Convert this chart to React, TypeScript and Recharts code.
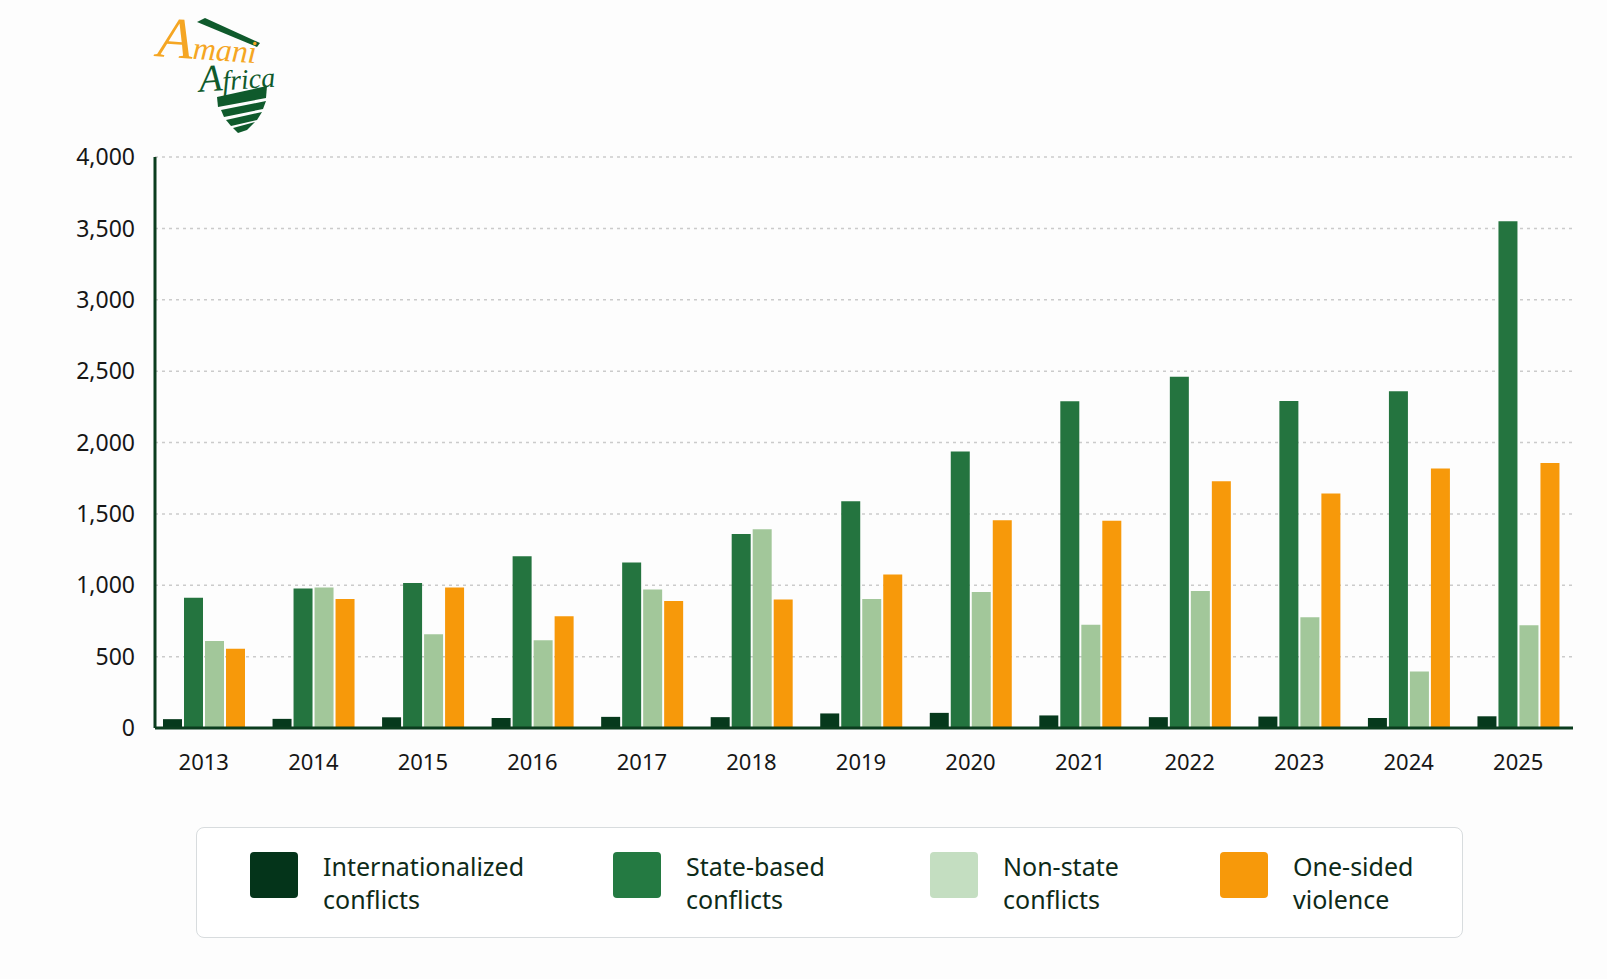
import {
  BarChart,
  Bar,
  XAxis,
  YAxis,
  CartesianGrid,
} from "recharts";

const years = ["2013", "2014", "2015", "2016", "2017", "2018", "2019", "2020", "2021", "2022", "2023", "2024", "2025"];
const internationalized = [62, 64, 75, 70, 78, 76, 102, 106, 88, 76, 80, 70, 82];
const stateBased = [913, 977, 1016, 1204, 1160, 1359, 1589, 1937, 2289, 2460, 2291, 2359, 3550];
const nonState = [610, 984, 657, 615, 970, 1392, 904, 953, 723, 960, 775, 395, 719];
const oneSided = [556, 904, 984, 782, 889, 901, 1075, 1456, 1451, 1729, 1643, 1817, 1857];
const yTicks = [0, 500, 1000, 1500, 2000, 2500, 3000, 3500, 4000];

const series = [
  { key: "intl", label: ["Internationalized", "conflicts"], color: "#06391c", swatch: "#04341a" },
  { key: "state", label: ["State-based", "conflicts"], color: "#24743f", swatch: "#247a42" },
  { key: "nonstate", label: ["Non-state", "conflicts"], color: "#a2c79a", swatch: "#c4dec1" },
  { key: "onesided", label: ["One-sided", "violence"], color: "#f7990a", swatch: "#f7990a" },
];

const data = years.map((year, i) => ({
  year,
  intl: internationalized[i],
  state: stateBased[i],
  nonstate: nonState[i],
  onesided: oneSided[i],
}));

// legend item widths (px) to line up with the original layout
const legendItemWidths = [363, 317, 290, 200];

const AXIS = "#0b3d1e";
const LOGO_GREEN = "#0f5a2c";

function Logo() {
  return (
    <svg width={160} height={140} style={{ position: "absolute", left: 140, top: 5 }} viewBox="140 5 160 140">
      <polygon points="197,22 205,18 260,43 257,47" fill={LOGO_GREEN} />
      <text
        x={157}
        y={60}
        fontStyle="italic"
        fontFamily="'Liberation Serif', serif"
        fill="#f5a623"
        transform="rotate(4 210 55)"
      >
        <tspan fontSize={58}>A</tspan>
        <tspan fontSize={32}>mani</tspan>
      </text>
      <text
        x={199}
        y={89}
        fontStyle="italic"
        fontFamily="'Liberation Serif', serif"
        fill={LOGO_GREEN}
        transform="rotate(-4 240 80)"
      >
        <tspan fontSize={38}>A</tspan>
        <tspan fontSize={28}>frica</tspan>
      </text>
      <polygon points="217,97 267,86 266,98 218,107" fill={LOGO_GREEN} />
      <polygon points="221,110 266,101 263,109 224,117" fill={LOGO_GREEN} />
      <polygon points="226,120 262,112 257,120 231,126" fill={LOGO_GREEN} />
      <polygon points="233,128 255,122 247,130 238,133" fill={LOGO_GREEN} />
    </svg>
  );
}

function LegendBox() {
  return (
    <div
      style={{
        position: "absolute",
        left: 196,
        top: 827,
        width: 1267,
        height: 111,
        boxSizing: "border-box",
        border: "1.5px solid #d8dcde",
        borderRadius: 8,
        background: "#ffffff",
        display: "flex",
        alignItems: "flex-start",
        paddingLeft: 53,
        paddingTop: 24,
      }}
    >
      {series.map((s, i) => (
        <div key={s.key} style={{ width: legendItemWidths[i], display: "flex", alignItems: "flex-start" }}>
          <div style={{ width: 48, height: 46, background: s.swatch, borderRadius: 4, flexShrink: 0 }} />
          <div
            style={{
              marginLeft: 25,
              marginTop: -2,
              fontFamily: "'Noto Sans', sans-serif",
              fontSize: 25,
              lineHeight: "33px",
              color: "#0e2a18",
            }}
          >
            {s.label[0]}
            <br />
            {s.label[1]}
          </div>
        </div>
      ))}
    </div>
  );
}

export default function App() {
  return (
    <div
      style={{
        position: "absolute",
        left: 0,
        top: 0,
        width: 1607,
        height: 979,
        background: "#fdfdfd",
        fontFamily: "'Noto Sans', sans-serif",
        overflow: "hidden",
      }}
    >
      <Logo />
      <div style={{ position: "absolute", left: 0, top: 0 }}>
        <BarChart
          width={1607}
          height={800}
          data={data}
          margin={{ top: 157, right: 34, left: 55, bottom: 32 }}
          barSize={19}
          barGap={2}
        >
          <CartesianGrid vertical={false} strokeDasharray="3 4" stroke="#cbcbcb" strokeWidth={1.5} />
          <XAxis
            dataKey="year"
            height={40}
            padding={{ left: -6, right: 0 }}
            axisLine={{ stroke: AXIS, strokeWidth: 3 }}
            tickLine={false}
            tickSize={0}
            tickMargin={26}
            tick={{ fontSize: 22, fill: "#161616" }}
          />
          <YAxis
            width={100}
            domain={[0, 4000]}
            ticks={yTicks}
            interval={0}
            axisLine={{ stroke: AXIS, strokeWidth: 3 }}
            tickLine={false}
            tickSize={0}
            tickMargin={20}
            tick={{ fontSize: 23, fill: "#161616" }}
            tickFormatter={(v: number) => v.toLocaleString("en-US")}
          />
          {series.map((s) => (
            <Bar key={s.key} dataKey={s.key} fill={s.color} isAnimationActive={false} />
          ))}
        </BarChart>
      </div>
      <LegendBox />
    </div>
  );
}
